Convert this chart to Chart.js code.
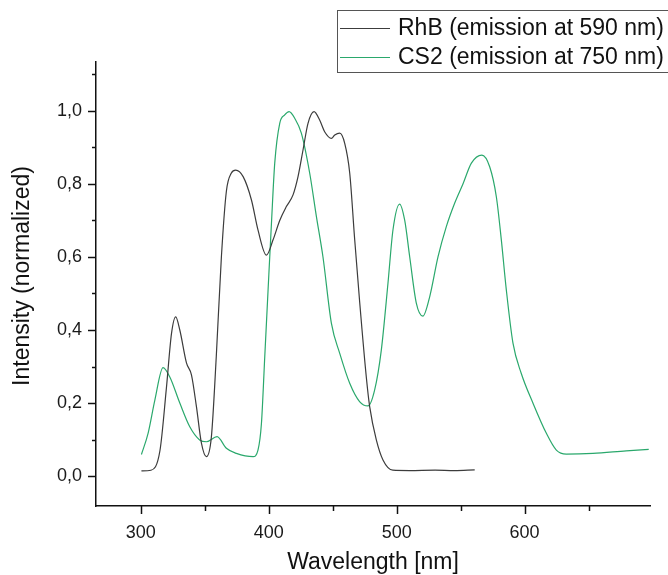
<!DOCTYPE html>
<html>
<head>
<meta charset="utf-8">
<script src="https://cdn.jsdelivr.net/npm/chart.js@4"></script>
<style>
    body { margin: 0; background: #fff; }
    #wrap { width: 668px; height: 575px; position: relative; }
</style>
</head>
<body>
<div id="wrap"><canvas id="spectraChart"></canvas></div>
<script>
const rhbWavelength = [300.5, 308, 315, 320, 324, 327.3, 330.5, 335.7, 339.6, 343.5, 347.4, 351.3, 355.2, 359, 363, 366.9, 370.8, 374.2, 380, 386.5, 391.6, 398.2, 403.4, 408.6, 413.8, 419, 422.9, 426.8, 430.7, 435.4, 439.8, 443.7, 449, 451.6, 455.5, 459.4, 463.3, 467.2, 471, 476.3, 478.9, 484.1, 489.3, 497, 510, 530, 545, 561];
const rhbIntensity = [0.014, 0.016, 0.07, 0.24, 0.39, 0.436, 0.40, 0.31, 0.277, 0.19, 0.09, 0.053, 0.108, 0.327, 0.60, 0.78, 0.83, 0.838, 0.82, 0.756, 0.674, 0.605, 0.647, 0.70, 0.738, 0.77, 0.82, 0.893, 0.966, 0.998, 0.975, 0.943, 0.925, 0.934, 0.939, 0.911, 0.83, 0.647, 0.48, 0.27, 0.19, 0.099, 0.044, 0.016, 0.015, 0.016, 0.015, 0.017];

const cs2Wavelength = [300.5, 305.7, 311, 317.4, 322.6, 330.5, 338.3, 346, 351.3, 359.6, 366.9, 374.7, 387.8, 391.6, 394.3, 396.9, 399.5, 402.1, 404.7, 408.6, 412.5, 415.9, 420.3, 425.5, 432, 437.3, 442.4, 449, 455.5, 463.3, 471, 477.6, 482.8, 488, 493.2, 497.1, 502.3, 506.3, 510.2, 515.4, 520.5, 525.8, 532.3, 538.8, 545.3, 551.8, 558.4, 566.6, 572.7, 577.9, 581.8, 585.7, 590.9, 597.4, 606.5, 617, 624.8, 632.6, 653.4, 679.4, 697];
const cs2Intensity = [0.059, 0.117, 0.208, 0.297, 0.272, 0.20, 0.135, 0.099, 0.094, 0.108, 0.076, 0.062, 0.053, 0.071, 0.144, 0.327, 0.51, 0.69, 0.857, 0.966, 0.989, 0.998, 0.98, 0.939, 0.83, 0.71, 0.60, 0.418, 0.336, 0.254, 0.204, 0.192, 0.236, 0.345, 0.528, 0.674, 0.745, 0.70, 0.60, 0.473, 0.438, 0.491, 0.60, 0.683, 0.747, 0.80, 0.857, 0.879, 0.847, 0.765, 0.647, 0.51, 0.364, 0.281, 0.20, 0.117, 0.071, 0.06, 0.062, 0.069, 0.073];

const xTicks = [300, 350, 400, 450, 500, 550, 600, 650];
const xLabels = [300, 400, 500, 600];
const yTicks = [0, 0.1, 0.2, 0.3, 0.4, 0.5, 0.6, 0.7, 0.8, 0.9, 1.0, 1.1];
const yLabels = [0, 0.2, 0.4, 0.6, 0.8, 1.0];

const seriesLabels = ['RhB (emission at 590 nm)', 'CS2 (emission at 750 nm)'];
const seriesColors = ['#3c3c3c', '#2aa86c'];
const xTitle = 'Wavelength [nm]';
const yTitle = 'Intensity (normalized)';

const FONT = '"Liberation Sans", Arial, sans-serif';

const toPoints = (xs, ys) => xs.map((x, i) => ({ x: x, y: ys[i] }));
const isLabel = (list, v) => list.some(l => Math.abs(l - v) < 1e-6);

// outward tick marks (long on labelled values) plus the two axis titles
const axisDecor = {
    id: 'axisDecor',
    afterDraw(chart) {
        const ctx = chart.ctx;
        const xs = chart.scales.x;
        const ys = chart.scales.y;
        ctx.save();
        ctx.strokeStyle = '#111';
        ctx.lineWidth = 1.5;
        xTicks.forEach(v => {
            const px = Math.round(xs.getPixelForValue(v)) + 0.5;
            const len = isLabel(xLabels, v) ? 8 : 5;
            ctx.beginPath();
            ctx.moveTo(px, xs.top);
            ctx.lineTo(px, xs.top + len);
            ctx.stroke();
        });
        yTicks.forEach(v => {
            const py = Math.round(ys.getPixelForValue(v)) + 0.5;
            const len = isLabel(yLabels, v) ? 8 : 4;
            ctx.beginPath();
            ctx.moveTo(ys.right, py);
            ctx.lineTo(ys.right - len, py);
            ctx.stroke();
        });
        ctx.fillStyle = '#111';
        ctx.font = '23px ' + FONT;
        ctx.textAlign = 'center';
        ctx.textBaseline = 'middle';
        ctx.fillText(xTitle, (xs.left + xs.right) / 2, 563);
        ctx.translate(23, 276);
        ctx.rotate(-Math.PI / 2);
        ctx.fillText(yTitle, 0, 0);
        ctx.restore();
    }
};

const boxLegend = {
    id: 'boxLegend',
    afterDraw(chart) {
        const ctx = chart.ctx;
        ctx.save();
        ctx.strokeStyle = '#555';
        ctx.lineWidth = 1;
        ctx.strokeRect(337.5, 10.5, 340, 62);
        ctx.font = '23px ' + FONT;
        ctx.textBaseline = 'middle';
        ctx.fillStyle = '#111';
        chart.data.datasets.forEach((ds, i) => {
            const y = 28 + i * 29;
            ctx.strokeStyle = ds.borderColor;
            ctx.beginPath();
            ctx.moveTo(340, y + 0.5);
            ctx.lineTo(390, y + 0.5);
            ctx.stroke();
            ctx.fillText(ds.label, 398, y + 1);
        });
        ctx.restore();
    }
};

const spectraChart = new Chart(document.getElementById('spectraChart').getContext('2d'), {
    type: 'line',
    data: {
        datasets: [
            {
                label: seriesLabels[0],
                data: toPoints(rhbWavelength, rhbIntensity),
                borderColor: seriesColors[0],
                borderWidth: 1.2,
                pointRadius: 0,
                cubicInterpolationMode: 'monotone'
            },
            {
                label: seriesLabels[1],
                data: toPoints(cs2Wavelength, cs2Intensity),
                borderColor: seriesColors[1],
                borderWidth: 1.2,
                pointRadius: 0,
                cubicInterpolationMode: 'monotone'
            }
        ]
    },
    options: {
        responsive: true,
        maintainAspectRatio: false,
        animation: false,
        layout: { padding: { top: 62, right: 18, left: 0, bottom: 0 } },
        plugins: {
            legend: { display: false },
            tooltip: { enabled: false }
        },
        scales: {
            x: {
                type: 'linear',
                min: 265,
                max: 698,
                afterBuildTicks: (scale) => { scale.ticks = xLabels.map(v => ({ value: v })); },
                afterFit: (scale) => { scale.height = 69; },
                border: { display: true, color: '#111', width: 1.5 },
                grid: { display: true, drawOnChartArea: false, tickLength: 8, tickColor: 'rgba(0,0,0,0)' },
                ticks: { color: '#1a1a1a', font: { family: FONT, size: 18 }, padding: 8, maxRotation: 0 },
                title: { display: false }
            },
            y: {
                type: 'linear',
                min: -0.082,
                max: 1.134,
                afterBuildTicks: (scale) => { scale.ticks = yLabels.map(v => ({ value: v })); },
                afterFit: (scale) => { scale.width = 96; },
                border: { display: true, color: '#111', width: 1.5 },
                grid: { display: true, drawOnChartArea: false, tickLength: 8, tickColor: 'rgba(0,0,0,0)' },
                ticks: {
                    color: '#1a1a1a',
                    font: { family: FONT, size: 18 },
                    padding: 6,
                    callback: (v) => v.toFixed(1).replace('.', ',')
                },
                title: { display: false }
            }
        }
    },
    plugins: [axisDecor, boxLegend]
});
</script>
</body>
</html>
